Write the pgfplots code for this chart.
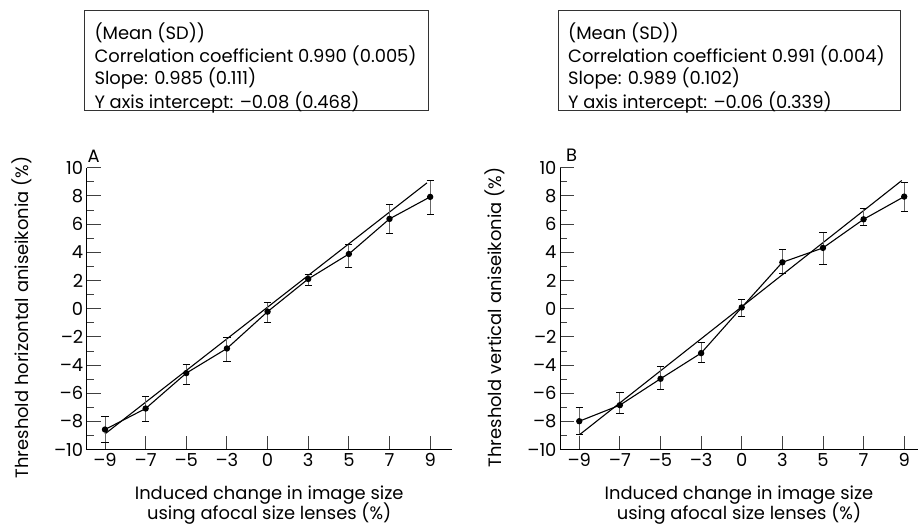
\documentclass[border=0pt]{standalone}
\usepackage{fontspec}
\setmainfont{Poppins}
\usepackage{pgfplots}
\pgfplotsset{compat=1.18}
\usepackage{pgfplotstable}

% index x, mean y, error up, error down
\pgfplotstableread{
i  y      ep    em
0  -8.57  0.92  0.93
1  -7.08  0.83  0.94
2  -4.57  0.64  0.80
3  -2.82  0.78  0.94
4  -0.21  0.66  0.78
5   2.11  0.30  0.43
6   3.88  0.71  0.92
7   6.37  1.04  1.00
8   7.93  1.18  1.28
}\horiz
\pgfplotstableread{
i  y      ep    em
0  -7.98  0.98  0.97
1  -6.84  0.88  0.62
2  -4.97  0.85  0.73
3  -3.15  0.76  0.66
4   0.09  0.57  0.63
5   3.29  0.88  0.78
6   4.31  1.11  1.16
7   6.34  0.76  0.47
8   7.95  1.02  1.04
}\vert

\newcommand{\fs}{\fontsize{17.9}{23}\selectfont}

\pgfplotsset{
    panel/.style={
        scale only axis, height=282pt, anchor=south west,
        axis lines=left, axis line style={-, line width=0.9pt},
        ymin=-10, ymax=10,
        xtick={0,...,8},
        xticklabels={–9,–7,–5,–3,0,3,5,7,9},
        ytick={-10,-8,...,10},
        yticklabels={–10,–8,–6,–4,–2,0,2,4,6,8,10},
        minor ytick={-9,-7,...,9},
        tick align=inside,
        major tick length=14pt, minor tick length=7pt,
        every tick/.style={black!75, line width=0.9pt},
        tick label style={font=\fs},
        clip=false,
    },
    databar/.style={
        black, line width=1.1pt, mark=*, mark size=2.6pt,
        error bars/.cd, y dir=both, y explicit,
        error bar style={black!60, line width=0.9pt},
        error mark options={rotate=90, mark size=3.6pt, black, line width=0.9pt},
    },
}

\begin{document}
\begin{tikzpicture}[font=\fs]
\useasboundingbox (0,0) rectangle (919pt,527pt);

% ---- panel A ----
\begin{axis}[panel, at={(86.7pt,77.3pt)}, width=365pt, xmin=-0.45, xmax=8.53]
    \addplot[black, line width=1.1pt] coordinates {(0,-8.88) (7.92,8.92)};
    \addplot[databar] table[x=i, y=y, y error plus=ep, y error minus=em] {\horiz};
\end{axis}

% ---- panel B ----
\begin{axis}[panel, at={(560pt,77.3pt)}, width=358pt, xmin=-0.475, xmax=8.34]
    \addplot[black, line width=1.1pt] coordinates {(0,-8.95) (7.94,9.09)};
    \addplot[databar] table[x=i, y=y, y error plus=ep, y error minus=em] {\vert};
\end{axis}

% stats boxes
\draw[black!80, line width=0.9pt] (84pt,416.3pt) rectangle (428pt,516.3pt);
\node[anchor=base west, inner sep=0] at (94.3pt,487.7pt) {(Mean (SD))};
\node[anchor=base west, inner sep=0] at (94.3pt,464.3pt) {Correlation coefficient 0.990 (0.005)};
\node[anchor=base west, inner sep=0] at (94.3pt,442pt) {Slope: 0.985 (0.111)};
\node[anchor=base west, inner sep=0] at (94.3pt,418.7pt) {Y axis intercept: –0.08 (0.468)};

\draw[black!80, line width=0.9pt] (558pt,416.3pt) rectangle (900pt,516.3pt);
\node[anchor=base west, inner sep=0] at (568pt,487.7pt) {(Mean (SD))};
\node[anchor=base west, inner sep=0] at (568pt,464.3pt) {Correlation coefficient 0.991 (0.004)};
\node[anchor=base west, inner sep=0] at (568pt,442pt) {Slope: 0.989 (0.102)};
\node[anchor=base west, inner sep=0] at (568pt,418.7pt) {Y axis intercept: –0.06 (0.339)};

% panel letters
\node at (93.7pt,371pt) {A};
\node at (571.5pt,371.3pt) {B};

% axis titles
\node[rotate=90] at (21.7pt,209.5pt) {Threshold horizontal aniseikonia (\%)};
\node[rotate=90] at (495pt,209.5pt) {Threshold vertical aniseikonia (\%)};
\node[anchor=base] at (269.2pt,27pt) {Induced change in image size};
\node[anchor=base] at (269.2pt,7pt) {using afocal size lenses (\%)};
\node[anchor=base] at (739pt,27pt) {Induced change in image size};
\node[anchor=base] at (739pt,7pt) {using afocal size lenses (\%)};
\end{tikzpicture}
\end{document}
